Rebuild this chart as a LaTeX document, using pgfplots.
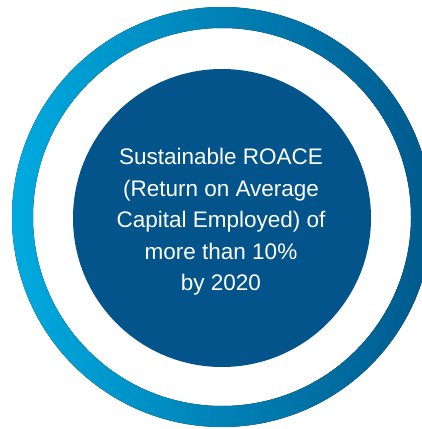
\documentclass[border=0pt]{standalone}
\usepackage{pgfplots}
\pgfplotsset{compat=1.18}
\usepackage{fontspec}
\setmainfont{Liberation Sans}

\definecolor{ringL}{HTML}{00AAE0}
\definecolor{ringR}{HTML}{00598C}
\definecolor{core}{HTML}{03548A}

\begin{document}
\begin{tikzpicture}
  % fix the page to the reference's 422 x 429 frame
  \path[use as bounding box] (0,0) rectangle (422bp,429bp);
  \begin{axis}[
      scale only axis,
      width=422bp, height=429bp,
      xmin=0, xmax=422, ymin=0, ymax=429,
      y dir=reverse,
      hide axis,
      clip=true,
    ]
    % outer gradient ring
    \fill[even odd rule, left color=ringL, right color=ringR]
      (axis cs:222,217) circle[radius=210]
      (axis cs:222,217) circle[radius=189];
    % inner disc
    \fill[core] (axis cs:222,218) circle[radius=149];
    \node[text=white, align=center, font=\fontsize{22.5bp}{31.5bp}\selectfont]
      at (axis cs:221,222) {Sustainable ROACE\\(Return on Average\\Capital Employed) of\\more than 10\%\\by 2020};
  \end{axis}
\end{tikzpicture}
\end{document}
